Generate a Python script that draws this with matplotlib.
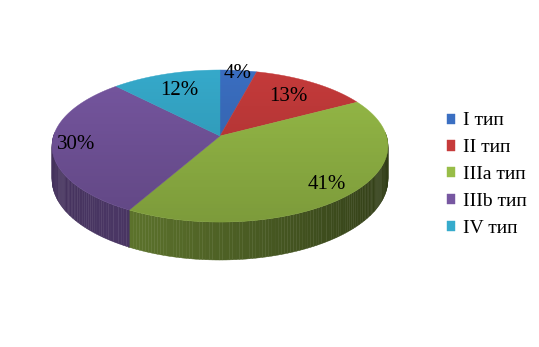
import numpy as np
import matplotlib.pyplot as plt
from matplotlib.patches import Polygon
from matplotlib.colors import to_rgb

labels = ['I тип', 'II тип', 'IIIa тип', 'IIIb тип', 'IV тип']
values = [4, 13, 41, 30, 12]
top_colors = ['#3b6fc2', '#c63b3b', '#98bd48', '#7757a1', '#36abcc']
label_r = [0.94, 0.72, 0.84, 0.86, 0.72]

W, H = 539, 347
# screen position of pie apex, scale and perspective of the 3-D disc
cx, cy, sx, sy, k, depth = 220, 136, 166.5, 74.7, 0.1316, 33


def proj(u, v, z=0.0):
    d = 1 + k * v
    return cx + sx * u / d, cy - sy * v / d + z / d


def shade(col, f):
    return tuple(np.clip(np.array(to_rgb(col)) * f, 0, 1))


fig = plt.figure(figsize=(W / 100, H / 100), dpi=100)
ax = fig.add_axes([0, 0, 1, 1])
ax.set_xlim(0, W)
ax.set_ylim(H, 0)
ax.axis('off')

fr = np.array(values) / sum(values)
starts = 90 - 360 * np.concatenate([[0], np.cumsum(fr)[:-1]])
ends = 90 - 360 * np.cumsum(fr)

# side wall (front half only), thin strips with lighting
for a0, a1, col in zip(starts, ends, top_colors):
    ph = np.arange(a0, a1 - 0.5, -1.0)
    ph = np.append(ph, a1)
    for p0, p1 in zip(ph[:-1], ph[1:]):
        pm = np.deg2rad((p0 + p1) / 2)
        if np.sin(pm) > 0.05:
            continue
        u = np.cos(pm)
        f = 0.62 - 0.05 * (-0.55 - u) / 0.45 if u < -0.55 else 0.62 - 0.193 * (u + 0.55)
        t = np.deg2rad([p0, p1])
        xt, yt = proj(np.cos(t), np.sin(t))
        xb, yb = proj(np.cos(t[::-1]), np.sin(t[::-1]), depth)
        ax.add_patch(Polygon(np.column_stack([np.r_[xt, xb], np.r_[yt, yb]]),
                             closed=True, fc=shade(col, f), ec=shade(col, f),
                             lw=0.3, zorder=1))

# top face
outline = []
top_patches = []
for a0, a1, col in zip(starts, ends, top_colors):
    t = np.deg2rad(np.linspace(a0, a1, 80))
    xs, ys = proj(np.cos(t), np.sin(t))
    outline.append(np.column_stack([xs, ys]))
    p = Polygon(np.column_stack([np.r_[cx, xs], np.r_[cy, ys]]), closed=True,
                fc=col, ec=col, lw=0.3, zorder=2)
    ax.add_patch(p)
    top_patches.append(p)

# soft darkening toward the front of the top face
clip = Polygon(np.vstack(outline), closed=True, transform=ax.transData)
grad = np.zeros((100, 2, 4))
grad[..., 3] = np.linspace(0, 0.2, 100)[:, None]
im = ax.imshow(grad, extent=(cx - sx * 1.1, cx + sx * 1.1, 240, 60),
               aspect='auto', interpolation='bilinear', zorder=3)
im.set_clip_path(clip)
ax.set_xlim(0, W)
ax.set_ylim(H, 0)

mids = (starts + ends) / 2
for m, r, v in zip(mids, label_r, values):
    t = np.deg2rad(m)
    x, y = proj(r * np.cos(t), r * np.sin(t))
    ax.text(x, y, f'{v}%', ha='center', va='center',
            fontsize=15, family='Liberation Serif', zorder=5)

leg = fig.legend(top_patches, labels, loc='upper left', bbox_to_anchor=(429 / W, 1 - 95 / H),
                 frameon=False, prop=dict(family='Liberation Serif', size=14),
                 handlelength=0.42, handleheight=0.42, handletextpad=0.45,
                 labelspacing=0.51)

fig.savefig('out.png', dpi=100)
